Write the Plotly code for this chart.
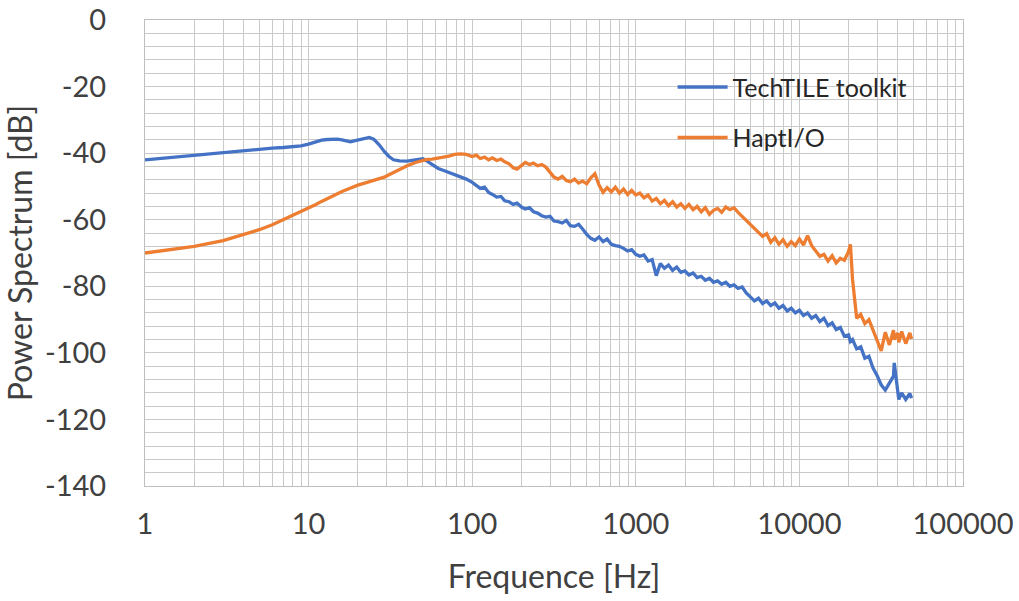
import plotly.graph_objects as go

# Frequency grid (Hz)
freq = [1, 1.5, 2, 3, 4, 5, 6, 7, 8, 9, 10, 11, 12, 13, 14, 15, 16, 17, 18, 19, 20,
        22, 23.5, 25, 27, 29, 31, 33, 36, 40, 45, 50, 53, 57, 62, 67, 72, 78, 85, 92,
        100, 106, 112, 119, 126, 133, 141, 150, 158, 168, 178, 188, 200, 211, 224, 237,
        251, 266, 282, 299, 316, 335, 355, 376, 398, 422, 447, 473, 501, 531, 562, 596,
        631, 668, 708, 750, 794, 841, 891, 944, 1000, 1059, 1122, 1189, 1259, 1334, 1413,
        1496, 1585, 1679, 1778, 1884, 1995, 2113, 2239, 2371, 2512, 2661, 2818, 2985, 3162,
        3350, 3548, 3758, 3981, 4217, 4467, 4732, 5012, 5309, 5623, 5957, 6310, 6683, 7079,
        7499, 7943, 8414, 8913, 9441, 10000, 10593, 11220, 11885, 12589, 13335, 14125, 14962,
        15849, 16788, 17783, 18836, 19953, 20500, 21135, 22387, 23714, 25119, 26607, 28184,
        29854, 31623, 33497, 35481, 37584, 38000, 39811, 40500, 42170, 44668, 47315, 48500]

techtile = [-42.0, -41.2, -40.5, -39.7, -39.2, -38.8, -38.5, -38.3, -38.1, -37.8, -37.3,
            -36.6, -36.1, -35.9, -35.8, -35.8, -36.0, -36.4, -36.6, -36.3, -36.0,
            -35.6, -35.3, -35.8, -37.5, -39.5, -41.0, -42.0, -42.3, -42.4, -42.1, -41.7,
            -42.4, -43.4, -44.6, -45.2, -45.8, -46.6, -47.2, -47.8,
            -48.8, -49.8, -50.6, -50.2, -51.8, -52.4, -53.2, -53.0, -54.3, -54.6, -55.4, -55.0,
            -56.2, -56.8, -56.4, -57.6, -58.0, -58.8, -59.2, -59.0, -60.4, -60.6, -61.0, -60.2,
            -61.8, -62.0, -61.4, -62.8, -64.4, -65.6, -66.2, -65.2, -66.6, -65.8, -67.4, -67.8,
            -68.0, -68.6, -69.4, -69.0, -70.4, -71.0, -70.6, -72.4, -72.0, -76.8, -73.2, -74.6,
            -73.6, -75.2, -74.2, -75.8, -75.4, -76.6, -76.0, -77.4, -77.0, -78.2, -77.6, -78.8,
            -78.4, -79.4, -78.8, -80.0, -79.6, -80.6, -80.2, -82.0, -83.2, -84.4, -83.6, -85.2,
            -84.4, -85.8, -85.0, -86.6, -85.8, -87.4, -86.6, -88.0, -87.2, -88.8, -88.0, -89.6,
            -88.8, -90.6, -89.6, -91.8, -91.0, -93.0, -92.4, -95.0, -94.6, -96.6, -96.0, -98.8,
            -98.2, -101.6, -101.0, -104.6, -106.8, -109.6, -111.2, -109.2, -107.0, -103.0,
            -111.8, -114.0, -112.0, -114.0, -112.2, -113.6]

haptio = [-70.0, -68.8, -68.0, -66.3, -64.5, -63.0, -61.5, -60.0, -58.7, -57.6, -56.5,
          -55.5, -54.5, -53.6, -52.8, -52.1, -51.5, -51.0, -50.5, -50.0, -49.6,
          -49.0, -48.6, -48.2, -47.8, -47.2, -46.5, -45.8, -45.0, -43.8, -42.8, -42.2,
          -41.9, -41.8, -41.5, -41.2, -40.9, -40.4, -40.2, -40.4,
          -41.0, -40.6, -41.6, -41.2, -42.0, -41.4, -42.2, -41.8, -42.6, -43.2, -44.4, -44.8,
          -43.6, -42.8, -43.4, -43.0, -43.8, -43.4, -44.2, -45.6, -47.2, -47.8, -47.0, -48.2,
          -48.6, -47.8, -49.0, -48.4, -49.2, -47.4, -46.2, -49.6, -51.8, -50.4, -51.6, -50.2,
          -52.0, -50.8, -52.4, -51.2, -52.6, -52.0, -53.4, -52.6, -54.4, -53.6, -55.2, -54.2,
          -55.8, -54.6, -56.2, -55.2, -56.6, -55.4, -57.0, -56.0, -57.6, -56.4, -58.4, -57.2,
          -56.6, -57.8, -56.2, -57.0, -56.4, -57.8, -59.0, -60.2, -61.4, -62.6, -63.8, -65.0,
          -64.2, -66.8, -65.4, -67.4, -66.0, -68.0, -66.6, -67.8, -65.8, -67.6, -64.8, -67.8,
          -69.4, -71.0, -70.4, -72.4, -70.8, -73.0, -71.6, -72.2, -69.6, -67.4, -78.0, -89.6,
          -88.4, -91.2, -90.0, -93.2, -96.0, -99.4, -93.8, -97.6, -93.2, -96.0,
          -94.0, -96.8, -93.6, -97.2, -94.0, -95.8]

series_names = ["TechTILE toolkit", "HaptI/O"]
x_ticks = [1, 10, 100, 1000, 10000, 100000]
x_tick_labels = ["1", "10", "100", "1000", "10000", "100000"]
y_ticks = [0, -20, -40, -60, -80, -100, -120, -140]
y_tick_labels = ["0", "-20", "-40", "-60", "-80", "-100", "-120", "-140"]

FONT = "Lato, 'Open Sans', sans-serif"
TXT = "#404040"
GRID = "#c9c9c9"

fig = go.Figure()
fig.add_trace(go.Scatter(x=freq, y=techtile, mode="lines", name=series_names[0],
                         line=dict(color="#4472C4", width=3.3), legendgroup="a"))
fig.add_trace(go.Scatter(x=freq, y=haptio, mode="lines", name=series_names[1],
                         line=dict(color="#ED7D31", width=3.3), legendgroup="b"))

fig.update_layout(
    width=1019, height=601,
    margin=dict(l=145, r=56, t=20, b=115, autoexpand=False),
    paper_bgcolor="white", plot_bgcolor="white",
    font=dict(family=FONT, color=TXT),
    showlegend=True,
    legend=dict(x=0.645, y=0.905, xanchor="left", yanchor="top",
                bgcolor="rgba(0,0,0,0)", font=dict(size=25, color="#262626"),
                traceorder="grouped", tracegroupgap=15, itemwidth=50),
)
fig.update_xaxes(
    type="log", range=[0, 5], tickvals=x_ticks, ticktext=x_tick_labels,
    showgrid=True, gridcolor=GRID, gridwidth=1,
    minor=dict(showgrid=True, gridcolor=GRID, gridwidth=1, dtick="D1", ticks=""),
    showline=True, linecolor="#bfbfbf", linewidth=1, mirror=True,
    ticks="", tickfont=dict(size=29, color=TXT), ticklabelstandoff=12,
    title=dict(text="Frequence [Hz]", font=dict(size=32, color=TXT), standoff=26),
    zeroline=False, automargin=False,
)
fig.update_yaxes(
    range=[-140, 0], tickvals=y_ticks, ticktext=y_tick_labels,
    showgrid=True, gridcolor=GRID, gridwidth=1,
    minor=dict(showgrid=True, gridcolor=GRID, gridwidth=1, dtick=4, ticks=""),
    showline=True, linecolor="#bfbfbf", linewidth=1, mirror=True,
    ticks="", tickfont=dict(size=29, color=TXT), ticklabelstandoff=32,
    title=dict(text="Power Spectrum [dB]", font=dict(size=32, color=TXT), standoff=2),
    zeroline=False, automargin=False,
)

fig.write_html("out.html")
